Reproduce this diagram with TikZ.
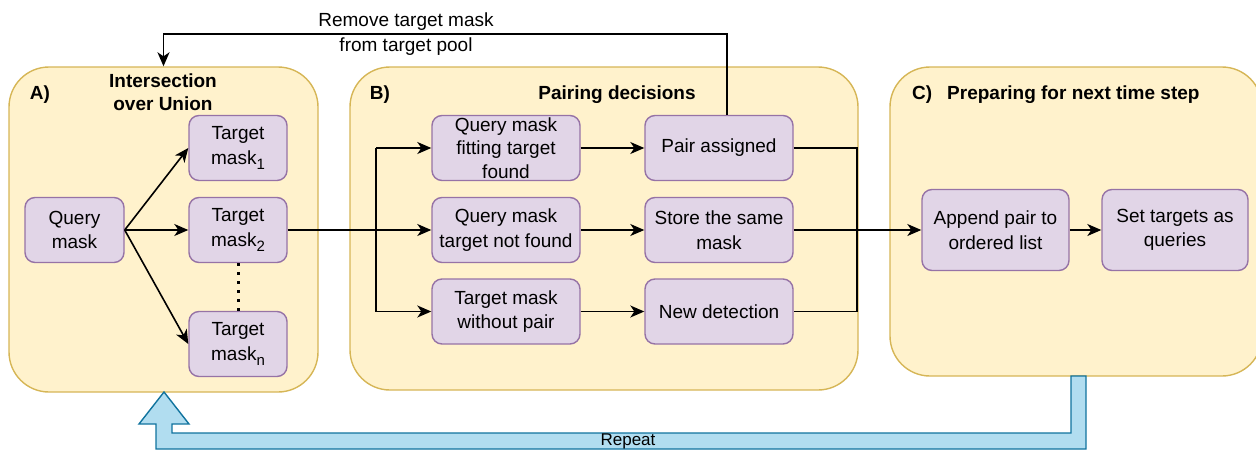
\documentclass[tikz,border=0pt]{standalone}
\usepackage{fontspec}
\setmainfont{Liberation Sans}
\usetikzlibrary{arrows.meta,calc}
\definecolor{panelfill}{HTML}{FFF2CC}
\definecolor{paneldraw}{HTML}{D6B656}
\definecolor{boxfill}{HTML}{E1D5E7}
\definecolor{boxdraw}{HTML}{9673A6}
\definecolor{blfill}{HTML}{B1DDF0}
\definecolor{bldraw}{HTML}{10739E}
\newcommand{\mysub}[1]{\raisebox{-5pt}{\fontsize{15}{15}\selectfont #1}}
\begin{document}
\begin{tikzpicture}[x=1pt,y=-1pt,
  panel/.style={draw=paneldraw, fill=panelfill, line width=1.4pt, rounded corners=40pt, inner sep=0pt},
  mbox/.style={draw=boxdraw, fill=boxfill, line width=1.4pt, rounded corners=10pt, minimum height=65pt, inner sep=0pt, align=center, font=\fontsize{19}{24.5}\selectfont},
  lbl/.style={font=\fontsize{19}{25}\selectfont, align=center, inner sep=0pt},
  ttl/.style={font=\bfseries\fontsize{19}{23}\selectfont, align=center, inner sep=0pt},
  conn/.style={line width=1.6pt, -{Stealth[length=14pt,width=12pt,inset=4pt]}},
  plainline/.style={line width=1.6pt},
  dotline/.style={line width=3pt, dash pattern=on 3pt off 6pt},
  flexarrow/.style={draw=bldraw, fill=blfill, line width=1.4pt, line join=miter}
]
\useasboundingbox (0,0) rectangle (1256,450);
% panels
\node[panel, minimum width=309pt, minimum height=325pt] (A) at (163.5,229.5) {};
\node[panel, minimum width=508pt, minimum height=323pt] (B) at (604,228.5) {};
\node[panel, minimum width=372pt, minimum height=309pt] (C) at (1076,221.5) {};
% titles
\node[ttl] (At) at (40,94.5) {A)};
\node[ttl] (Aint) at (163,92.5) {Intersection\\over Union};
\node[ttl] (Bt) at (380,94.5) {B)};
\node[ttl] (Btit) at (617,94.5) {Pairing decisions};
\node[ttl,anchor=west] (Ct) at (912,94.5) {C)};
\node[ttl,anchor=west] (Ctit) at (947,94.5) {Preparing for next time step};
% boxes A
\node[mbox, minimum width=99pt] (qm) at (74.5,230) {Query\\mask};
\node[mbox, minimum width=98pt] (t1) at (238,148) {Target\\mask\mysub{1}};
\node[mbox, minimum width=98pt] (t2) at (238,230) {Target\\mask\mysub{2}};
\node[mbox, minimum width=98pt] (tn) at (238,344) {Target\\mask\mysub{n}};
% boxes B
\node[mbox, minimum width=148pt, font=\fontsize{19}{23.5}\selectfont] (q1) at (506,148) {Query mask\\fitting target\\found};
\node[mbox, minimum width=148pt] (q2) at (506,230) {Query mask\\target not found};
\node[mbox, minimum width=148pt] (q3) at (506,311.5) {Target mask\\without pair};
\node[mbox, minimum width=148pt] (p1) at (719,148) {Pair assigned};
\node[mbox, minimum width=148pt] (p2) at (719,230) {Store the same\\mask};
\node[mbox, minimum width=148pt] (p3) at (719,311.5) {New detection};
% boxes C
\node[mbox, minimum width=147pt, minimum height=81pt] (app) at (995.5,230) {Append pair to\\ordered list};
\node[mbox, minimum width=146pt, minimum height=81pt] (set) at (1175,230) {Set targets as\\queries};
% connectors A
\draw[conn] (qm.east) -- (t1.west);
\draw[conn] (qm.east) -- (t2.west);
\draw[conn] (qm.east) -- (tn.west);
\draw[dotline] (t2.south) -- (tn.north);
% A -> B
\coordinate (split) at (376,230);
\draw[conn] (t2.east) -- (q2.west);
\draw[plainline] (q1.west -| split) -- (q3.west -| split);
\draw[conn] (q1.west -| split) -- (q1.west);
\draw[conn] (q3.west -| split) -- (q3.west);
\draw[conn] (q1.east) -- (p1.west);
\draw[conn] (q2.east) -- (p2.west);
\draw[conn] (q3.east) -- (p3.west);
% B -> C
\coordinate (join) at (857,230);
\draw[plainline] (p1.east) -- (p1.east -| join) -- (p3.east -| join) -- (p3.east);
\draw[conn] (p2.east) -- (app.west);
\draw[conn] (app.east) -- (set.west);
% feedback top
\coordinate (up) at (727,34);
\draw[conn] (p1.north -| up) -- (up) -- (up -| A.north) -- (A.north);
\node[lbl] (rm) at (406,34) {Remove target mask\\from target pool};
% repeat arrow
\coordinate (tip) at (164,392);
\draw[flexarrow] (tip) -- (189,424) -- (172,424) -- (172,433)
  -- (1071,433) -- (1071,376) -- (1086,376) -- (1086,449) -- (156,449)
  -- (156,424) -- (139,424) -- cycle;
\node[font=\fontsize{17}{20}\selectfont, inner sep=0pt] (rep) at (628,441.5) {Repeat};
\end{tikzpicture}
\end{document}
